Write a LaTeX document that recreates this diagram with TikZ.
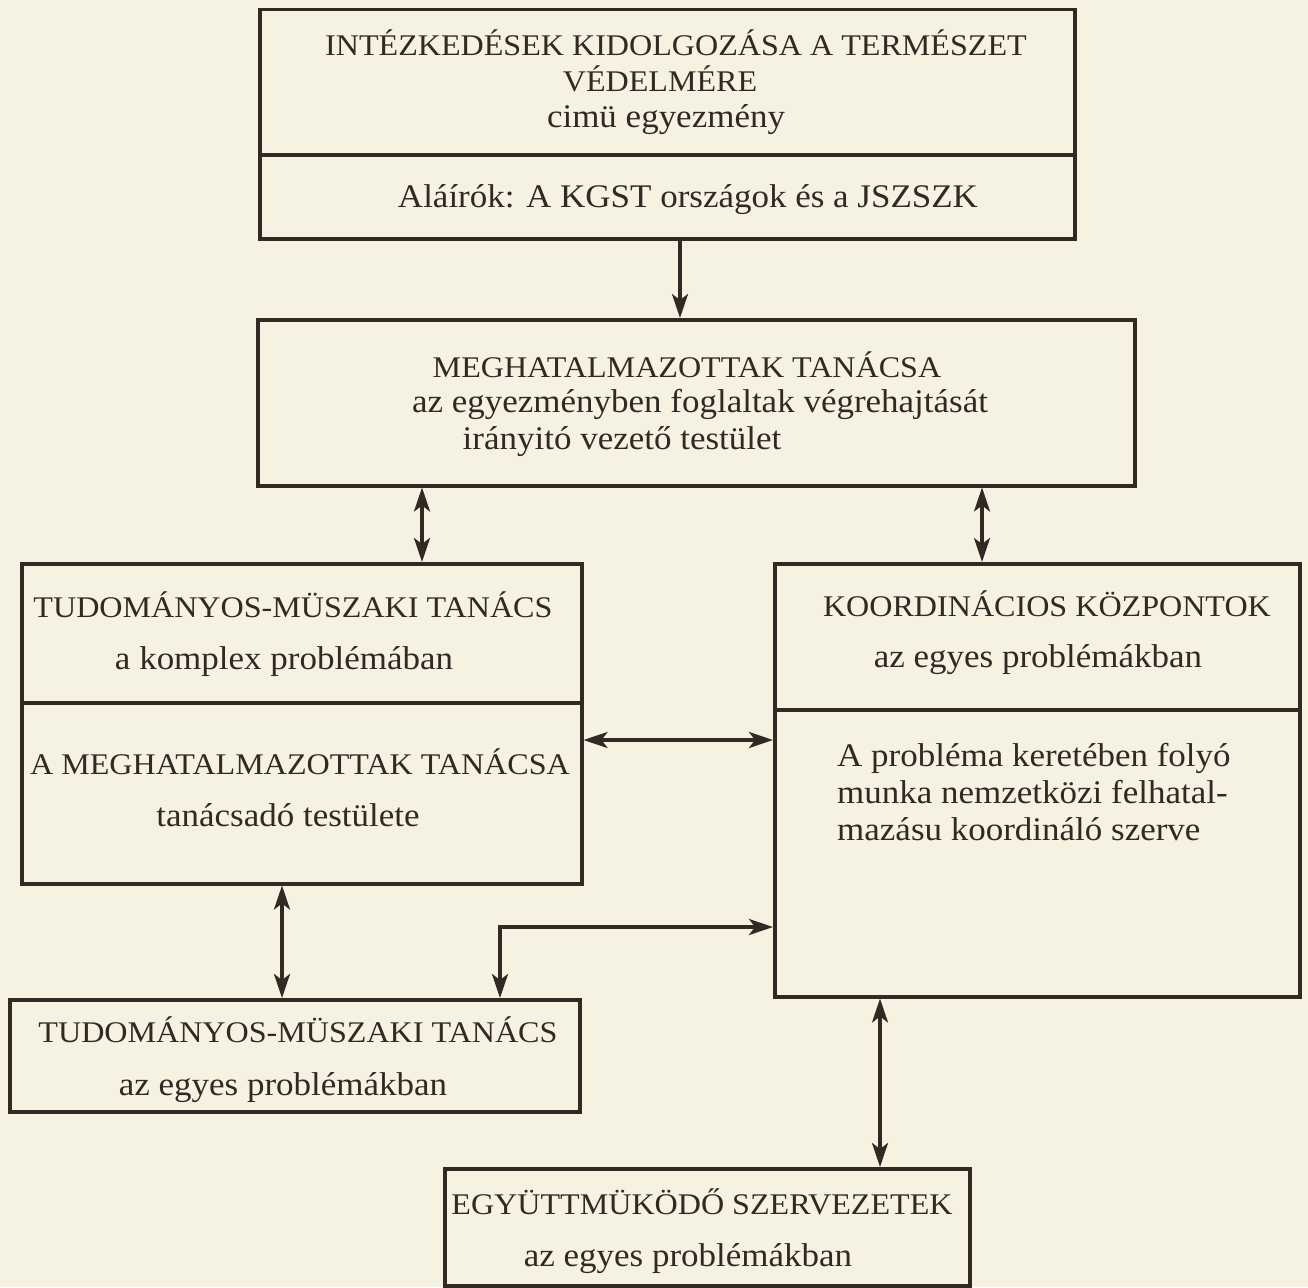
\documentclass[tikz,border=0pt]{standalone}
\usepackage{fontspec}
\setmainfont{Liberation Serif}
\newfontfamily\capsfont[FakeStretch=1.07]{Liberation Serif}
\newfontfamily\lowfont[FakeStretch=1.06]{Liberation Serif}
\usetikzlibrary{calc,arrows.meta}
\definecolor{paper}{RGB}{245,242,226}
\definecolor{ink}{RGB}{50,40,36}
\begin{document}
\begin{tikzpicture}[x=1pt,y=-1pt,
  frame/.style={draw=ink, line width=3.5pt, inner sep=0pt, anchor=north west},
  caps/.style={font=\capsfont\fontsize{30}{36}\selectfont, text=ink, inner sep=0pt, anchor=base},
  low/.style={font=\lowfont\fontsize{33}{38}\selectfont, text=ink, inner sep=0pt, anchor=base},
  lowl/.style={low, anchor=base west},
  divider/.style={draw=ink, line width=3.5pt},
  tip/.tip={Stealth[length=24pt,width=16pt,inset=6pt]},
  conn/.style={draw=ink, line width=3.2pt},
  both/.style={conn, tip-tip},
  one/.style={conn, -tip}]
\fill[paper] (0,0) rectangle (1308,1287);
\useasboundingbox (0,0) rectangle (1308,1287);

% boxes
\node[frame, minimum width=815pt, minimum height=229pt] (top) at (258,8) {};
\node[frame, minimum width=877pt, minimum height=166pt] (megh) at (256,318) {};
\node[frame, minimum width=560pt, minimum height=320pt] (lbox) at (20,562) {};
\node[frame, minimum width=525pt, minimum height=433pt] (rbox) at (773,562) {};
\node[frame, minimum width=570pt, minimum height=112pt] (tmt) at (8,998) {};
\node[frame, minimum width=525pt, minimum height=117pt] (egy) at (443,1167) {};

% dividers
\draw[divider] ($(top.north west)+(0,147)$) -- ($(top.north east)+(0,147)$);
\draw[divider] ($(lbox.north west)+(0,141)$) -- ($(lbox.north east)+(0,141)$);
\draw[divider] ($(rbox.north west)+(0,148)$) -- ($(rbox.north east)+(0,148)$);

% texts
\node[caps] (t1) at (676,56) {INTÉZKEDÉSEK KIDOLGOZÁSA A TERMÉSZET};
\node[caps] (t2) at (660,92) {VÉDELMÉRE};
\node[low] (t3) at (666,128) {cimü egyezmény};
\node[low] (t4) at (688,207) {Aláírók: A KGST országok és a JSZSZK};

\node[caps] (m1) at (687,377) {MEGHATALMAZOTTAK TANÁCSA};
\node[low] (m2) at (700,412) {az egyezményben foglaltak végrehajtását};
\node[low] (m3) at (622,449) {irányitó vezető testület};

\node[caps] (l1) at (293,617) {TUDOMÁNYOS-MÜSZAKI TANÁCS};
\node[low] (l2) at (284,669) {a komplex problémában};
\node[caps] (l3) at (300,774) {A MEGHATALMAZOTTAK TANÁCSA};
\node[low] (l4) at (288,826) {tanácsadó testülete};

\node[caps] (r1) at (1047,616) {KOORDINÁCIOS KÖZPONTOK};
\node[low] (r2) at (1038,667) {az egyes problémákban};
\node[lowl] (r3) at (837,766) {A probléma keretében folyó};
\node[lowl] (r4) at (837,803) {munka nemzetközi felhatal-};
\node[lowl] (r5) at (837,840) {mazásu koordináló szerve};

\node[caps] (s1) at (298,1042) {TUDOMÁNYOS-MÜSZAKI TANÁCS};
\node[low] (s2) at (283,1095) {az egyes problémákban};

\node[caps] (e1) at (702,1214) {EGYÜTTMÜKÖDŐ SZERVEZETEK};
\node[low] (e2) at (688,1266) {az egyes problémákban};

% connector positions
\coordinate (xa) at (680,0);
\coordinate (xb) at (422,0);
\coordinate (xc) at (982,0);
\coordinate (xd) at (282,0);
\coordinate (xe) at (880,0);
\coordinate (xf) at (500,0);
\coordinate (ya) at (0,740);
\coordinate (yb) at (0,927);

% connectors
\draw[one] (top.south -| xa) -- (megh.north -| xa);
\draw[both] (megh.south -| xb) -- (lbox.north -| xb);
\draw[both] (megh.south -| xc) -- (rbox.north -| xc);
\draw[both] (lbox.east |- ya) -- (rbox.west |- ya);
\draw[both] (lbox.south -| xd) -- (tmt.north -| xd);
\draw[both] (rbox.west |- yb) -| (tmt.north -| xf);
\draw[both] (rbox.south -| xe) -- (egy.north -| xe);
\end{tikzpicture}
\end{document}
